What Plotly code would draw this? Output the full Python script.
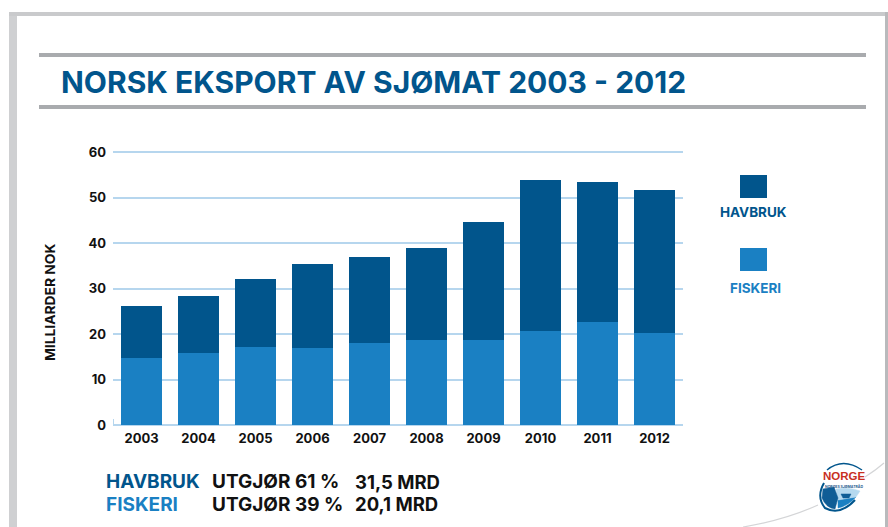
import plotly.graph_objects as go

years = ["2003","2004","2005","2006","2007","2008","2009","2010","2011","2012"]
fiskeri = [14.7,15.8,17.1,17.0,18.0,18.7,18.7,20.6,22.6,20.2]
havbruk = [11.5,12.5,14.9,18.5,19.0,20.2,25.9,33.2,30.8,31.5]
y_ticks = [0,10,20,30,40,50,60]
y_labels = ["<b>0</b>","<b>10</b>","<b>20</b>","<b>30</b>","<b>40</b>","<b>50</b>","<b>60</b>"]

W, H = 888, 527
DARK = "#01558c"
LIGHT = "#1a80c3"
GRID = "#b6d6ee"
FONT = "Inter, Liberation Sans, sans-serif"

def px(x): return x / W
def py(y): return 1 - y / H

fig = go.Figure()
fig.add_bar(x=years, y=fiskeri, name="FISKERI", marker_color=LIGHT, marker_line_width=0)
fig.add_bar(x=years, y=havbruk, name="HAVBRUK", marker_color=DARK, marker_line_width=0)

def rect(x0, y0, x1, y1, color):
    return dict(type="rect", xref="paper", yref="paper", x0=px(x0), x1=px(x1),
                y0=py(y0), y1=py(y1), fillcolor=color, line_width=0, layer="below")

def curve(tokens, color, width=1, fill=None):
    out = []
    for t in tokens:
        out.append(t if isinstance(t, str) else f"{px(t[0]):.5f},{py(t[1]):.5f}")
    return dict(type="path", xref="paper", yref="paper", path=" ".join(out),
                line=dict(color=color, width=width), fillcolor=fill or "rgba(0,0,0,0)", layer="below")

shapes = [
    rect(9, 12, 17, 527, "#cfd0d2"),
    rect(9, 12, 888, 16, "#c9cacc"),
    rect(885, 12, 888, 527, "#b9babc"),
    rect(39, 53, 866, 57, "#a9abae"),
    rect(39, 105, 866, 109, "#a9abae"),
    rect(740, 175, 767, 198, DARK),
    rect(740, 248, 767, 271, LIGHT),
    rect(113, 419, 114, 425, GRID),
    curve(["M",(743,527),"Q",(785,520),(818,505)], "#d4d5d7", 1.2),
    curve(["M",(865,477),"Q",(876,470),(884,463)], "#d4d5d7", 1.2),
    curve(["M",(827,470),"Q",(843,457),(862,470)], DARK, 1.5),
    curve(["M",(824,483),"Q",(816,497),(825,508),"Q",(840,516),(855,500)], DARK, 2),
    curve(["M",(838,508),"Q",(848,506),(856,497),"L",(838,500),"Z"], LIGHT, 0.5, LIGHT),
    curve(["M",(836,489),"Q",(850,487),(860,491),"L",(856,497),"L",(838,500),"Z"], "#b5d9ef", 0.5, "#b5d9ef"),
    curve(["M",(823,489),"L",(834,487),"L",(838,498),"L",(835,509),"Q",(826,508),(822,498),"Z"], "#0f5d96", 0.5, "#0f5d96"),
    curve(["M",(841,494),"L",(851,494),"L",(849,498),"L",(843,498),"Z"], "#0f5d96", 0.5, "#0f5d96"),
]

def label(x, y, text, color="#111111", size=12, anchor="left", angle=0, family=FONT):
    return dict(xref="paper", yref="paper", x=px(x), y=py(y), text=f"<b>{text}</b>",
                showarrow=False, xanchor=anchor, yanchor="middle", textangle=angle, borderpad=0,
                font=dict(family=family, size=size, color=color))

annotations = [
    label(60, 82, "NORSK EKSPORT AV SJØMAT 2003 - 2012", DARK, 30),
    label(50, 303, "MILLIARDER NOK", "#111111", 13.8, "center", -90),
    label(753, 212, "HAVBRUK", DARK, 13.5, "center"),
    label(755, 288, "FISKERI", LIGHT, 13.5, "center"),
    label(105, 482, "HAVBRUK", DARK, 19),
    label(105, 504, "FISKERI", LIGHT, 19),
    label(211, 482, "UTGJØR 61 %", "#111111", 19),
    label(211, 504, "UTGJØR 39 %", "#111111", 19),
    label(354, 482, "31,5 MRD", "#111111", 18.5),
    label(354, 504, "20,1 MRD", "#111111", 18.5),
    label(844, 476, "NORGE", "#c8301f", 11.5, "center", family="Liberation Sans"),
    label(844, 486, "NORGES SJØMATRÅD", "#2a5d8f", 3.5, "center"),
]

fig.update_layout(
    width=W, height=H, margin=dict(l=0, r=0, t=0, b=0, pad=0, autoexpand=False),
    paper_bgcolor="white", plot_bgcolor="white",
    barmode="stack", bargap=0.28, showlegend=False,
    shapes=shapes, annotations=annotations,
    xaxis=dict(domain=[px(113), px(683)], type="category", showgrid=False, ticks="", showline=False, automargin=False,
               ticklabelstandoff=4,
               tickfont=dict(family=FONT, size=13, color="#111111"), tickprefix="<b>", ticksuffix="</b>"),
    yaxis=dict(domain=[py(425), py(143)], range=[0, 62], tickvals=y_ticks, ticktext=y_labels,
               showgrid=True, gridcolor=GRID, gridwidth=1.5,
               zeroline=True, zerolinecolor=GRID, zerolinewidth=1.5, ticks="", showline=False, automargin=False,
               ticklabelstandoff=6,
               tickfont=dict(family=FONT, size=13, color="#111111")),
)
fig.write_html("out.html", config={"displayModeBar": False}, post_script="document.body.style.margin='0';")
